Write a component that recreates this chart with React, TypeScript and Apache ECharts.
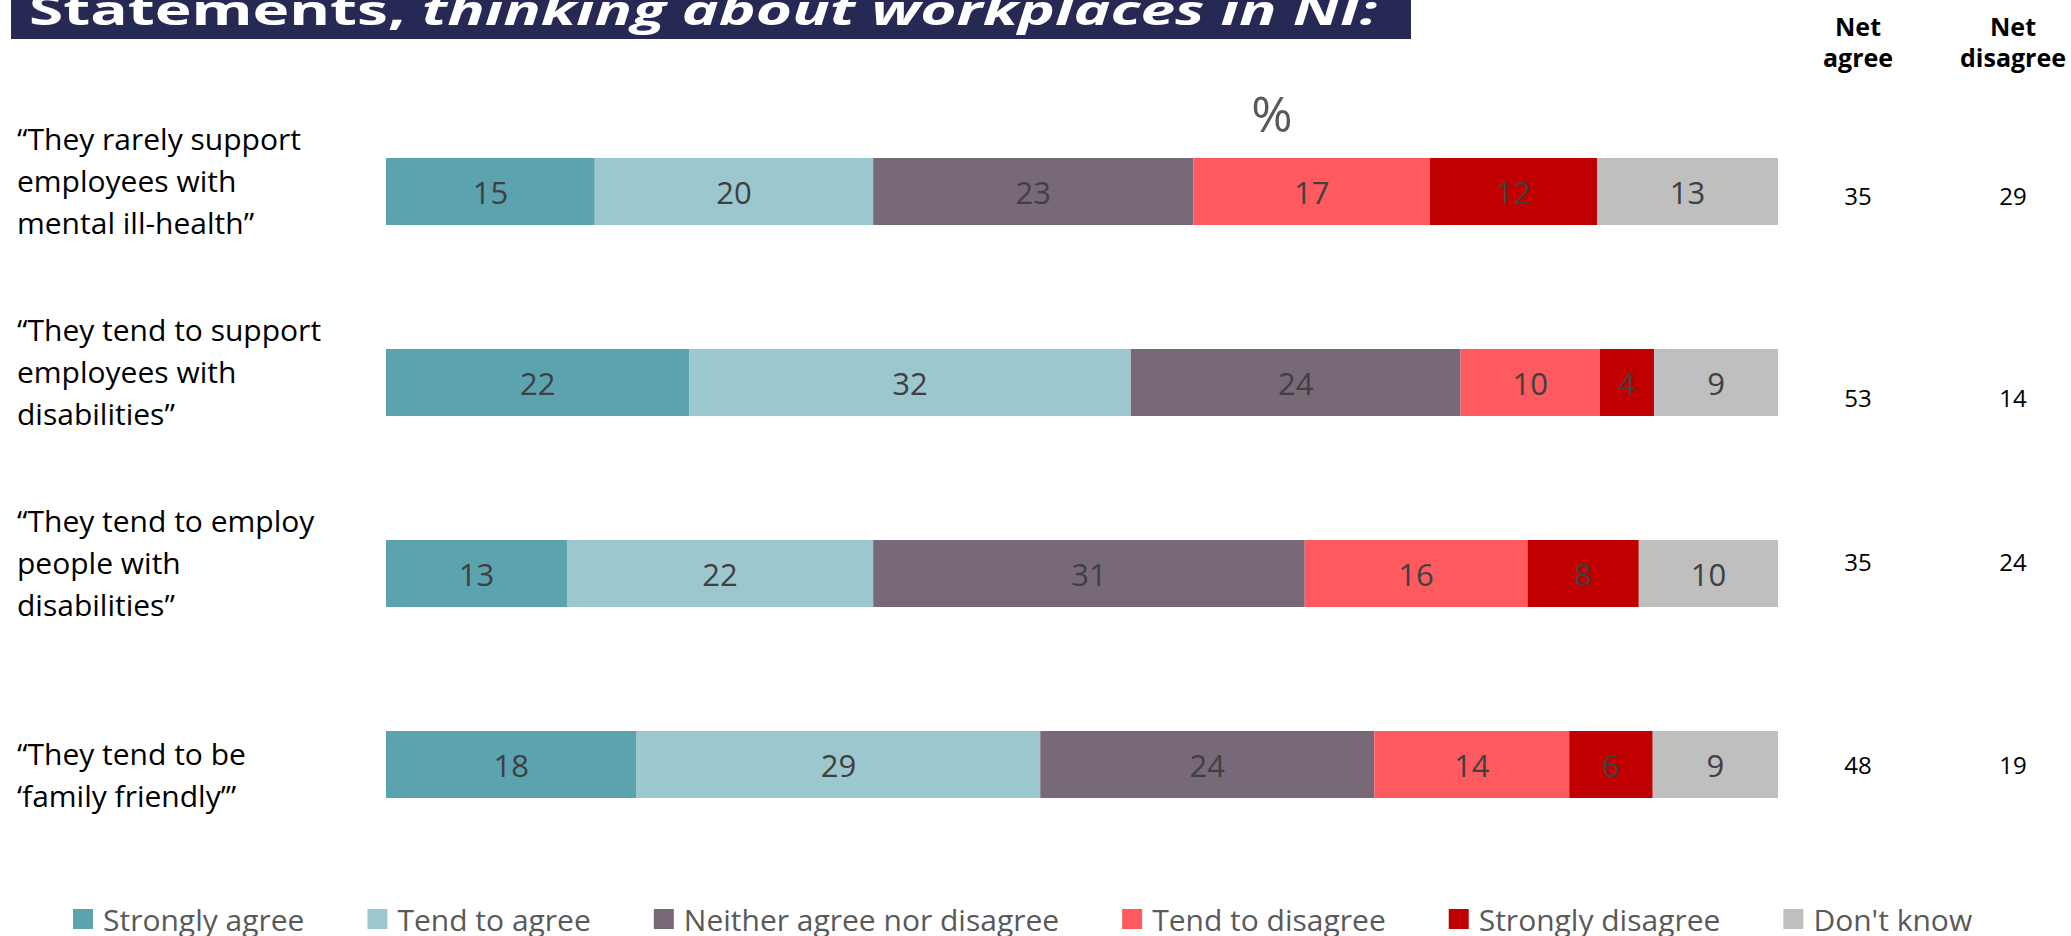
import React, { useEffect, useRef } from "react";
import * as echarts from "echarts";

const categories = [
  "“They rarely support\nemployees with\nmental ill-health”",
  "“They tend to support\nemployees with\ndisabilities”",
  "“They tend to employ\npeople with\ndisabilities”",
  "“They tend to be\n‘family friendly’”",
];
const seriesNames = [
  "Strongly agree",
  "Tend to agree",
  "Neither agree nor disagree",
  "Tend to disagree",
  "Strongly disagree",
  "Don't know",
];
const stronglyAgree = [15, 21.8, 13, 18];
const tendToAgree = [20, 31.7, 22, 29];
const neither = [23, 23.7, 31, 24];
const tendToDisagree = [17, 10, 16, 14];
const stronglyDisagree = [12, 3.9, 8, 6];
const dontKnow = [13, 8.9, 10, 9];
const netAgree = [35, 53, 35, 48];
const netDisagree = [29, 14, 24, 19];
const colors = ["#5BA3AF", "#9DC7CF", "#786979", "#FF5A5F", "#C00000", "#BFBFBF"];

// vertical nudges (px) of the net columns, as placed in the reference
const netShift = [4, 15, -12, 0];

const FONT = "'Open Sans', 'Noto Sans', sans-serif";

export default function App() {
  const ref = useRef<HTMLDivElement>(null);
  useEffect(() => {
    document.body.style.margin = "0";
    if (!ref.current) return;
    const chart = echarts.init(ref.current, null, { renderer: "svg" });
    const values = [stronglyAgree, tendToAgree, neither, tendToDisagree, stronglyDisagree, dontKnow];
    const netRich: any = {};
    netShift.forEach((d, i) => {
      const pad = d >= 0 ? [2 * d, 0, 0, 0] : [0, 0, -2 * d, 0];
      netRich["a" + i] = { width: 160, align: "center", fontSize: 24, color: "#000", fontFamily: FONT, padding: pad };
      netRich["b" + i] = { width: 150, align: "center", fontSize: 24, color: "#000", fontFamily: FONT, padding: pad };
    });
    chart.setOption({
      animation: false,
      textStyle: { fontFamily: FONT },
      grid: { left: 386, right: 293, top: 96, height: 764 },
      xAxis: { type: "value", min: 0, max: 100, show: false },
      yAxis: [
        {
          type: "category",
          data: categories,
          inverse: true,
          axisLine: { show: false },
          axisTick: { show: false },
          axisLabel: {
            align: "left",
            margin: 369,
            fontSize: 30,
            lineHeight: 42,
            color: "#000",
            fontFamily: FONT,
            formatter: (v: string) => (v.split("\n").length < 3 ? "\n" + v : v) + "\n{s| }",
            rich: { s: { fontSize: 2, lineHeight: 22 } },
          },
        },
        {
          type: "category",
          data: categories,
          inverse: true,
          position: "right",
          axisLine: { show: false },
          axisTick: { show: false },
          axisLabel: {
            align: "left",
            margin: 0,
            formatter: (_v: string, i: number) => `{a${i}|${netAgree[i]}}{b${i}|${netDisagree[i]}}`,
            rich: netRich,
          },
        },
      ],
      legend: {
        top: 899,
        left: 68,
        icon: "rect",
        itemWidth: 20,
        itemHeight: 20,
        itemGap: 63,
        textStyle: { fontSize: 30, color: "#595959", fontFamily: FONT, padding: [0, 0, 0, 5] },
        data: seriesNames,
      },
      series: seriesNames.map((name, k) => ({
        name,
        type: "bar",
        stack: "total",
        barWidth: 67,
        data: values[k],
        itemStyle: { color: colors[k] },
        label: {
          show: true,
          position: "inside",
          color: "#404040",
          fontSize: 31,
          fontFamily: FONT,
          formatter: (p: any) => String(Math.round(p.value)),
        },
      })),
      graphic: [
        { type: "rect", shape: { x: 11, y: 0, width: 1400, height: 39 }, style: { fill: "#262953" } },
        {
          type: "text",
          x: 29,
          y: 9,
          scaleX: 1.48,
          style: {
            text: "{n|Statements, }{i|thinking about workplaces in NI:}",
            verticalAlign: "middle",
            rich: {
              n: { fontWeight: "bold", fontSize: 42, fill: "#fff", fontFamily: FONT },
              i: { fontWeight: "bold", fontStyle: "italic", fontSize: 42, fill: "#fff", fontFamily: FONT },
            },
          },
        },
        {
          type: "text",
          x: 1272,
          y: 113,
          style: { text: "%", fontSize: 50, fill: "#595959", align: "center", verticalAlign: "middle", fontFamily: FONT },
        },
        {
          type: "text",
          x: 1858,
          y: 10,
          style: {
            text: "Net\nagree",
            fontSize: 25,
            fontWeight: "bold",
            lineHeight: 31,
            fill: "#000",
            align: "center",
            verticalAlign: "top",
            fontFamily: FONT,
          },
        },
        {
          type: "text",
          x: 2013,
          y: 10,
          style: {
            text: "Net\ndisagree",
            fontSize: 25,
            fontWeight: "bold",
            lineHeight: 31,
            fill: "#000",
            align: "center",
            verticalAlign: "top",
            fontFamily: FONT,
          },
        },
      ],
    });
    return () => chart.dispose();
  }, []);
  return <div ref={ref} style={{ width: 2071, height: 936 }} />;
}
